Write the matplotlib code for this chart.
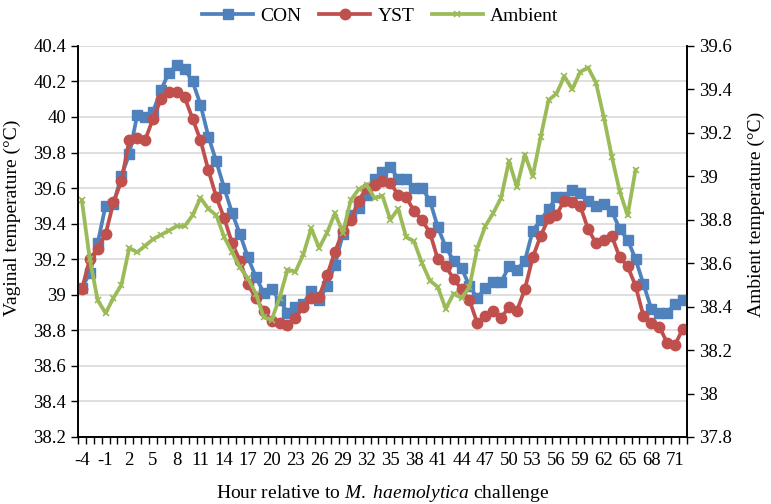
import numpy as np
import matplotlib.pyplot as plt
from matplotlib.ticker import FixedLocator

plt.rcParams['font.family'] = ['Liberation Serif', 'DejaVu Serif']
plt.rcParams['mathtext.fontset'] = 'custom'
plt.rcParams['mathtext.rm'] = 'Liberation Serif'
plt.rcParams['mathtext.it'] = 'Liberation Serif:italic'
plt.rcParams['axes.unicode_minus'] = False

# Hours relative to challenge
hours = list(range(-4, 73))

# Vaginal temperature, control group
con = [39.04, 39.12, 39.29, 39.50, 39.51, 39.67, 39.79, 40.01, 40.00, 40.03,
       40.15, 40.25, 40.29, 40.27, 40.20, 40.07, 39.89, 39.75, 39.60, 39.46,
       39.34, 39.21, 39.10, 39.01, 39.03, 38.97, 38.90, 38.93, 38.95, 39.02,
       38.97, 39.05, 39.17, 39.34, 39.45, 39.49, 39.56, 39.65, 39.69, 39.72,
       39.65, 39.65, 39.60, 39.60, 39.53, 39.38, 39.27, 39.19, 39.15, 39.05,
       38.98, 39.04, 39.07, 39.07, 39.16, 39.14, 39.19, 39.36, 39.42, 39.48,
       39.55, 39.55, 39.59, 39.57, 39.53, 39.50, 39.51, 39.47, 39.37, 39.31,
       39.20, 39.06, 38.92, 38.90, 38.90, 38.95, 38.97]

# Vaginal temperature, yeast group
yst = [39.03, 39.20, 39.26, 39.34, 39.52, 39.64, 39.87, 39.88, 39.87, 39.99,
       40.10, 40.14, 40.14, 40.11, 39.99, 39.87, 39.70, 39.55, 39.43, 39.29,
       39.19, 39.06, 38.98, 38.91, 38.85, 38.84, 38.83, 38.87, 38.93, 38.98,
       38.99, 39.11, 39.24, 39.36, 39.42, 39.53, 39.60, 39.62, 39.64, 39.63,
       39.56, 39.55, 39.47, 39.42, 39.35, 39.20, 39.16, 39.09, 39.03, 38.97,
       38.84, 38.88, 38.91, 38.87, 38.93, 38.91, 39.03, 39.21, 39.33, 39.43,
       39.45, 39.53, 39.52, 39.50, 39.37, 39.29, 39.31, 39.33, 39.21, 39.16,
       39.05, 38.88, 38.84, 38.82, 38.73, 38.72, 38.81]

# Ambient temperature (ends at hour 66)
ambient = [38.89, 38.62, 38.43, 38.37, 38.44, 38.50, 38.67, 38.65, 38.68, 38.71,
           38.73, 38.75, 38.77, 38.77, 38.82, 38.90, 38.85, 38.82, 38.72, 38.65,
           38.58, 38.53, 38.46, 38.35, 38.34, 38.44, 38.57, 38.56, 38.64, 38.76,
           38.67, 38.74, 38.83, 38.74, 38.89, 38.94, 38.96, 38.90, 38.91, 38.80,
           38.85, 38.72, 38.70, 38.60, 38.52, 38.49, 38.39, 38.46, 38.44, 38.49,
           38.67, 38.77, 38.83, 38.90, 39.07, 38.95, 39.10, 39.00, 39.18, 39.35,
           39.38, 39.46, 39.40, 39.48, 39.50, 39.43, 39.27, 39.09, 38.93, 38.82,
           39.03]

blue = '#4F81BD'
red = '#C0504D'
green = '#9BBB59'

fig = plt.figure(figsize=(7.71, 5.04), dpi=100)
ax = fig.add_axes([0.101, 0.133, 0.790, 0.776])
ax2 = ax.twinx()

l1, = ax.plot(hours, con, color=blue, lw=2.7, marker='s', ms=7.5, label='CON', zorder=3)
l2, = ax.plot(hours, yst, color=red, lw=2.7, marker='o', ms=7.5, label='YST', zorder=3)
l3, = ax2.plot(hours[:len(ambient)], ambient, color=green, lw=2.7, marker='x', ms=5,
               mew=1.2, label='Ambient')

ax.set_ylim(38.2, 40.4)
ax.set_yticks(np.arange(38.2, 40.41, 0.2))
ax.set_yticklabels(['38.2', '38.4', '38.6', '38.8', '39', '39.2', '39.4', '39.6',
                    '39.8', '40', '40.2', '40.4'])
ax2.set_ylim(37.8, 39.6)
ax2.set_yticks(np.arange(37.8, 39.61, 0.2))
ax2.set_yticklabels(['37.8', '38', '38.2', '38.4', '38.6', '38.8', '39', '39.2',
                     '39.4', '39.6'])

ax.set_xlim(-4.5, 72.5)
ax.set_xticks(hours[::3])
ax.xaxis.set_minor_locator(FixedLocator(np.arange(-4.5, 73, 1)))
ax.tick_params(axis='x', which='major', length=0, labelsize=13.5, pad=11)
ax.tick_params(axis='x', which='minor', length=5, width=1)
ax.tick_params(axis='y', labelsize=13.5, length=5, width=1)
ax2.tick_params(axis='y', labelsize=13.5, length=5, width=1)

ax.yaxis.grid(True, color='#D9D9D9', lw=1.2)
ax.set_axisbelow(True)
for a in (ax, ax2):
    a.spines['top'].set_visible(False)
    for s in ('left', 'right', 'bottom'):
        a.spines[s].set_linewidth(1.2)

ax.set_ylabel('Vaginal temperature (°C)', fontsize=14)
ax.yaxis.set_label_coords(-0.094, 0.56)
ax2.set_ylabel('Ambient temperature (°C)', fontsize=14)
ax2.yaxis.set_label_coords(1.1, 0.57)
ax.set_xlabel('Hour relative to $\\it{M.\\ haemolytica}$ challenge', fontsize=14, labelpad=10)

fig.legend(handles=[l1, l2, l3], loc='upper center', bbox_to_anchor=(0.4935, 1.02),
           ncol=3, frameon=False, fontsize=14, handlelength=2.6, columnspacing=0.9,
           handletextpad=0.4)

fig.savefig('out.png', dpi=100)
